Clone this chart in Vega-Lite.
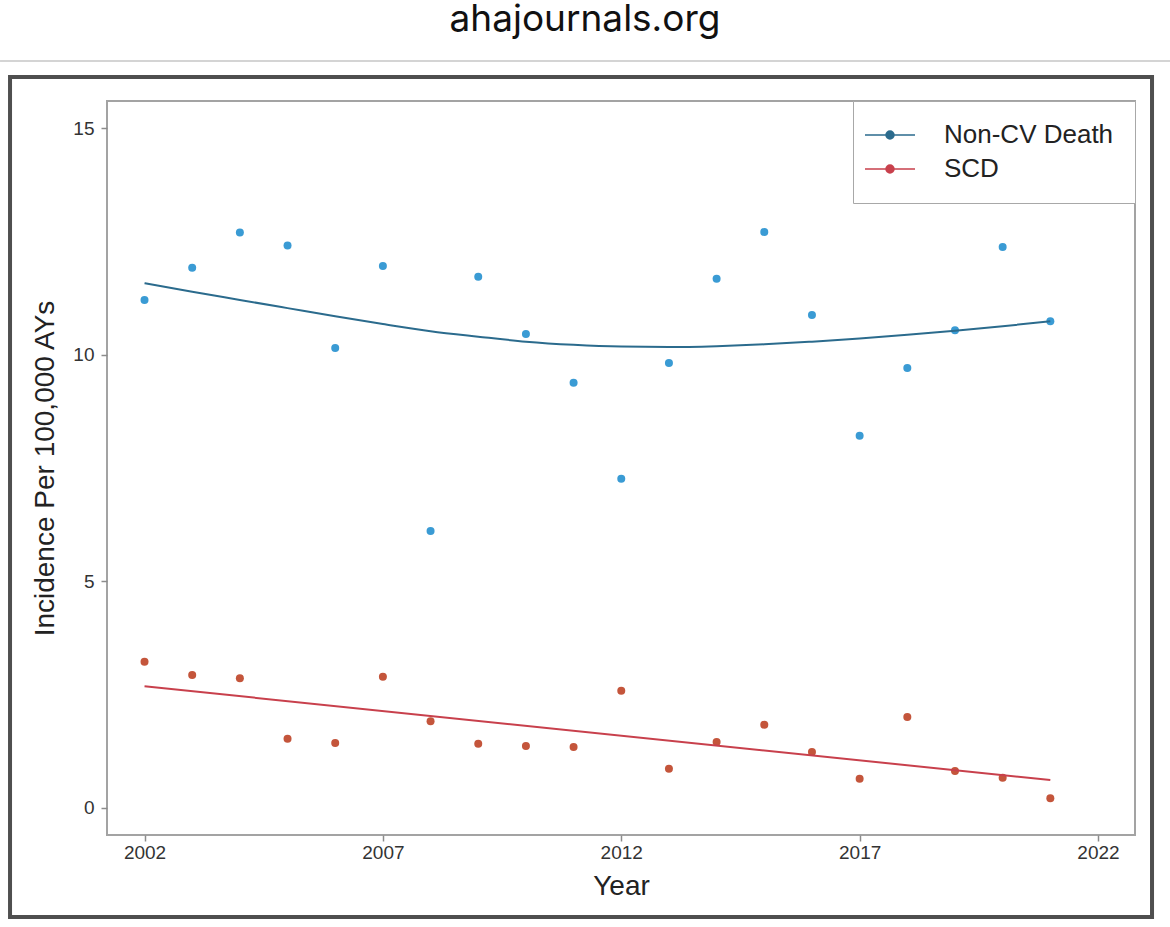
{
  "$schema": "https://vega.github.io/schema/vega-lite/v6.json",
  "width": 1028,
  "height": 734,
  "autosize": {"type": "none"},
  "padding": {"left": 107, "top": 101, "right": 35, "bottom": 92},
  "background": "white",
  "config": {
    "font": "Liberation Sans",
    "view": {"stroke": "#a3a3a3", "strokeWidth": 2},
    "axis": {"grid": false, "domain": false, "tickColor": "#8c8c8c", "tickWidth": 1.5, "tickSize": 6,
             "labelFontSize": 19, "labelColor": "#333333", "titleFontSize": 28, "titleFontWeight": "normal", "titleColor": "#222222"}
  },
  "title": {"text": "ahajournals.org", "font": "Inter", "fontSize": 37, "fontWeight": "normal", "color": "#111111", "anchor": "middle", "baseline": "alphabetic", "offset": -8, "dx": -36},
  "datasets": {
    "pts": [
      {"year": 2002, "value": 11.21, "series": "Non-CV Death"},
      {"year": 2003, "value": 11.92, "series": "Non-CV Death"},
      {"year": 2004, "value": 12.70, "series": "Non-CV Death"},
      {"year": 2005, "value": 12.41, "series": "Non-CV Death"},
      {"year": 2006, "value": 10.15, "series": "Non-CV Death"},
      {"year": 2007, "value": 11.96, "series": "Non-CV Death"},
      {"year": 2008, "value": 6.11, "series": "Non-CV Death"},
      {"year": 2009, "value": 11.72, "series": "Non-CV Death"},
      {"year": 2010, "value": 10.46, "series": "Non-CV Death"},
      {"year": 2011, "value": 9.38, "series": "Non-CV Death"},
      {"year": 2012, "value": 7.26, "series": "Non-CV Death"},
      {"year": 2013, "value": 9.82, "series": "Non-CV Death"},
      {"year": 2014, "value": 11.68, "series": "Non-CV Death"},
      {"year": 2015, "value": 12.71, "series": "Non-CV Death"},
      {"year": 2016, "value": 10.88, "series": "Non-CV Death"},
      {"year": 2017, "value": 8.21, "series": "Non-CV Death"},
      {"year": 2018, "value": 9.71, "series": "Non-CV Death"},
      {"year": 2019, "value": 10.54, "series": "Non-CV Death"},
      {"year": 2020, "value": 12.38, "series": "Non-CV Death"},
      {"year": 2021, "value": 10.74, "series": "Non-CV Death"},
      {"year": 2002, "value": 3.22, "series": "SCD"},
      {"year": 2003, "value": 2.93, "series": "SCD"},
      {"year": 2004, "value": 2.86, "series": "SCD"},
      {"year": 2005, "value": 1.52, "series": "SCD"},
      {"year": 2006, "value": 1.43, "series": "SCD"},
      {"year": 2007, "value": 2.89, "series": "SCD"},
      {"year": 2008, "value": 1.91, "series": "SCD"},
      {"year": 2009, "value": 1.41, "series": "SCD"},
      {"year": 2010, "value": 1.36, "series": "SCD"},
      {"year": 2011, "value": 1.34, "series": "SCD"},
      {"year": 2012, "value": 2.58, "series": "SCD"},
      {"year": 2013, "value": 0.86, "series": "SCD"},
      {"year": 2014, "value": 1.45, "series": "SCD"},
      {"year": 2015, "value": 1.83, "series": "SCD"},
      {"year": 2016, "value": 1.23, "series": "SCD"},
      {"year": 2017, "value": 0.64, "series": "SCD"},
      {"year": 2018, "value": 2.00, "series": "SCD"},
      {"year": 2019, "value": 0.81, "series": "SCD"},
      {"year": 2020, "value": 0.66, "series": "SCD"},
      {"year": 2021, "value": 0.21, "series": "SCD"}
    ],
    "trend": [
      {"year": 2002, "value": 11.58, "curve": "Non-CV Death"},
      {"year": 2003, "value": 11.39, "curve": "Non-CV Death"},
      {"year": 2004, "value": 11.21, "curve": "Non-CV Death"},
      {"year": 2005, "value": 11.03, "curve": "Non-CV Death"},
      {"year": 2006, "value": 10.85, "curve": "Non-CV Death"},
      {"year": 2007, "value": 10.68, "curve": "Non-CV Death"},
      {"year": 2008, "value": 10.52, "curve": "Non-CV Death"},
      {"year": 2009, "value": 10.40, "curve": "Non-CV Death"},
      {"year": 2010, "value": 10.29, "curve": "Non-CV Death"},
      {"year": 2011, "value": 10.22, "curve": "Non-CV Death"},
      {"year": 2012, "value": 10.18, "curve": "Non-CV Death"},
      {"year": 2013, "value": 10.17, "curve": "Non-CV Death"},
      {"year": 2014, "value": 10.19, "curve": "Non-CV Death"},
      {"year": 2015, "value": 10.23, "curve": "Non-CV Death"},
      {"year": 2016, "value": 10.29, "curve": "Non-CV Death"},
      {"year": 2017, "value": 10.36, "curve": "Non-CV Death"},
      {"year": 2018, "value": 10.44, "curve": "Non-CV Death"},
      {"year": 2019, "value": 10.53, "curve": "Non-CV Death"},
      {"year": 2020, "value": 10.63, "curve": "Non-CV Death"},
      {"year": 2021, "value": 10.74, "curve": "Non-CV Death"},
      {"year": 2002, "value": 2.68, "curve": "SCD"},
      {"year": 2021, "value": 0.61, "curve": "SCD"}
    ]
  },
  "layer": [
    {
      "data": {"values": [{}]},
      "mark": {"type": "rule", "stroke": "#c6c6c6", "strokeWidth": 1.5, "clip": false},
      "encoding": {
        "x": {"datum": 1998.969, "type": "quantitative", "scale": {"domain": [2001.213, 2022.776], "nice": false, "zero": false}},
        "x2": {"datum": 2023.51},
        "y": {"datum": 16.487, "type": "quantitative", "scale": {"domain": [-0.603, 15.603], "nice": false, "zero": false}}
      }
    },
    {
      "data": {"values": [{}]},
      "mark": {"type": "rect", "fill": null, "stroke": "#4f4f4f", "strokeWidth": 4, "clip": false},
      "encoding": {
        "x": {"datum": 1999.179, "type": "quantitative"},
        "x2": {"datum": 2023.133},
        "y": {"datum": 16.134, "type": "quantitative"},
        "y2": {"datum": -2.413}
      }
    },
    {
      "data": {"name": "pts"},
      "mark": {"type": "circle", "size": 64, "opacity": 1},
      "encoding": {
        "x": {"field": "year", "type": "quantitative",
              "axis": {"title": "Year", "values": [2002, 2007, 2012, 2017, 2022], "format": "d", "labelPadding": 2, "titlePadding": 10}},
        "y": {"field": "value", "type": "quantitative",
              "axis": {"title": "Incidence Per 100,000 AYs", "values": [0, 5, 10, 15], "labelPadding": 7, "titlePadding": 13}},
        "color": {"field": "series", "type": "nominal",
                  "scale": {"range": ["#3a9bd4", "#c4553b"]},
                  "legend": null}
      }
    },
    {
      "data": {"name": "trend"},
      "mark": {"type": "line", "strokeWidth": 2, "interpolate": "monotone"},
      "encoding": {
        "x": {"field": "year", "type": "quantitative"},
        "y": {"field": "value", "type": "quantitative"},
        "stroke": {"field": "curve", "type": "nominal",
                   "scale": {"domain": ["Non-CV Death", "SCD"], "range": ["#2b6b8d", "#c8404c"]},
                   "legend": {"title": null, "orient": "top-right", "offset": 0, "padding": 21,
                             "strokeColor": "#a8a8a8", "fillColor": "white",
                             "labelFontSize": 26, "labelColor": "#222222", "labelOffset": 44, "labelLimit": 400,
                             "symbolType": "M-2.2,0H2.8M0.7,0A0.4,0.4,0,1,1,-0.1,0A0.4,0.4,0,1,1,0.7,0M0.6,0A0.3,0.3,0,1,1,0,0A0.3,0.3,0,1,1,0.6,0M0.5,0A0.2,0.2,0,1,1,0.1,0A0.2,0.2,0,1,1,0.5,0M0.4,0A0.1,0.1,0,1,1,0.2,0A0.1,0.1,0,1,1,0.4,0",
                             "symbolSize": 400, "symbolStrokeWidth": 1.5, "symbolOpacity": 1, "rowPadding": 8}}
      }
    }
  ]
}
